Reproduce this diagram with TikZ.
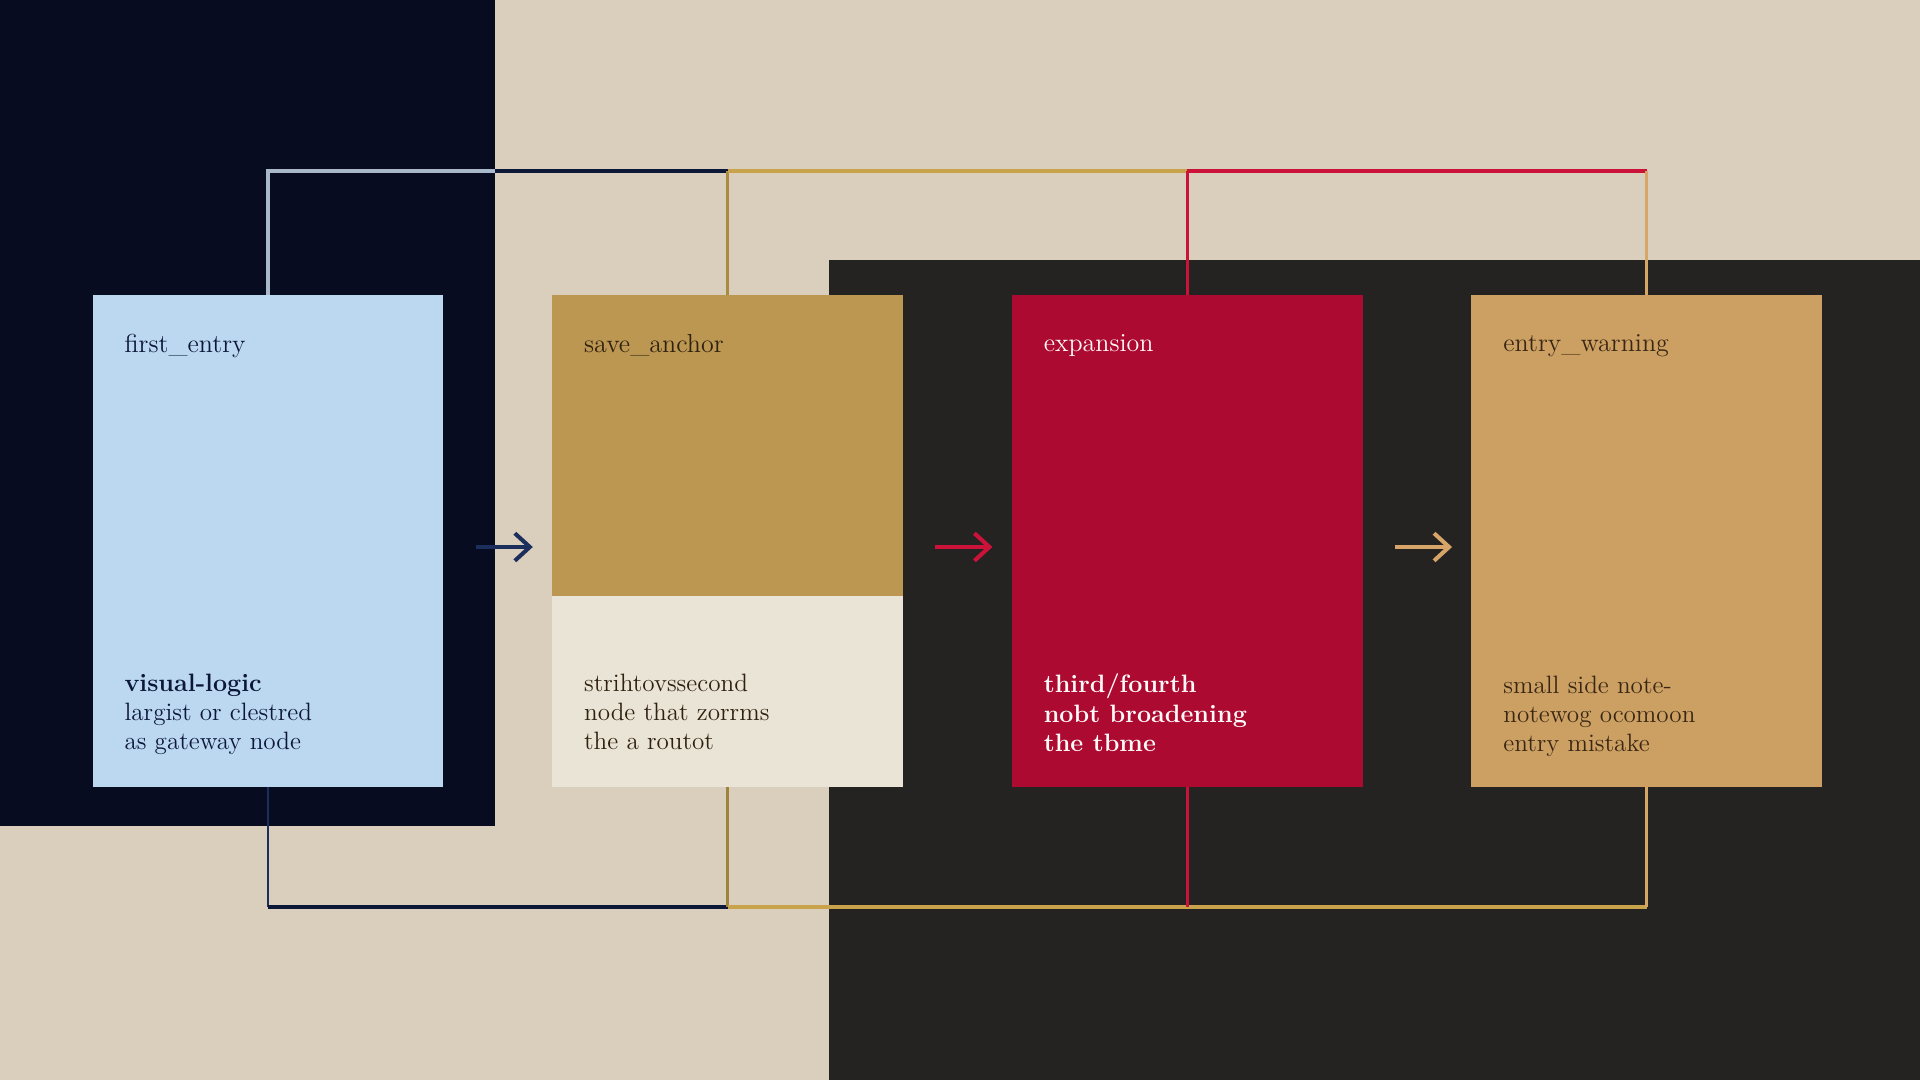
\documentclass[tikz,border=0pt]{standalone}
\usepackage{xcolor}
\usepackage{tikz}
\usetikzlibrary{arrows.meta,positioning,calc}

\definecolor{paper}{HTML}{D9CFBC}
\definecolor{nightpanel}{HTML}{070C20}
\definecolor{coalpanel}{HTML}{242322}
\definecolor{skyfill}{HTML}{BCD8F1}
\definecolor{goldfill}{HTML}{BB9752}
\definecolor{creamfill}{HTML}{E9E4D5}
\definecolor{crimsonfill}{HTML}{AD0A31}
\definecolor{tanfill}{HTML}{CCA063}
\definecolor{mistline}{HTML}{A9B8CB}
\definecolor{navyline}{HTML}{0D1838}
\definecolor{goldline}{HTML}{C9A24C}
\definecolor{redline}{HTML}{CB1238}
\definecolor{tanline}{HTML}{D6A567}
\definecolor{navyarrow}{HTML}{1B2E5C}

\begin{document}
\begin{tikzpicture}[x=0.02cm,y=-0.02cm,>={Straight Barb[length=3mm,width=5.5mm]},
  stage/.style={inner sep=0pt,minimum width=7.02cm,minimum height=9.84cm},
  wire/.style={line width=2.2pt},
  thinwire/.style={line width=1.7pt},
  flow/.style={->,line width=2.3pt,shorten <=0.64cm,shorten >=0.38cm},
  headtext/.style={anchor=west,inner sep=0pt,font=\fontsize{14.8}{17}\selectfont},
  bodytext/.style={anchor=north west,inner sep=0pt,align=left,font=\fontsize{14.3}{16.6}\selectfont}]
  \useasboundingbox (0,0) rectangle (1920,1080);
  \fill[paper] (0,0) rectangle (1920,1080);
  \fill[nightpanel] (0,0) rectangle (495,826);
  \fill[coalpanel] (829,260) rectangle (1920,1080);

  % the four stages
  \node[stage,fill=skyfill] (first) at (268,541) {};
  \node[stage,fill=creamfill,right=2.16cm of first] (anchor) {};
  \node[stage,fill=crimsonfill,right=2.16cm of anchor] (expand) {};
  \node[stage,fill=tanfill,right=2.16cm of expand] (warn) {};
  \fill[goldfill] (anchor.north west) rectangle ($(anchor.east)+(0,55)$);

  \coordinate (railtop) at (0,171);
  \coordinate (railbot) at (0,907);
  \coordinate (paneledge) at (495,0);

  % upper rail
  \draw[wire,mistline] (first.north) -- (first.north |- railtop) -- (paneledge |- railtop);
  \draw[wire,navyline] (paneledge |- railtop) -- (anchor.north |- railtop);
  \draw[thinwire,goldline!85!black] (anchor.north |- railtop) -- (anchor.north);
  \draw[wire,goldline] (anchor.north |- railtop) -- (expand.north |- railtop);
  \draw[wire,redline] (expand.north |- railtop) -- (warn.north |- railtop);
  \draw[thinwire,redline] (expand.north |- railtop) -- (expand.north);
  \draw[thinwire,tanline] (warn.north |- railtop) -- (warn.north);

  % lower rail
  \draw[thinwire,navyarrow] (first.south) -- (first.south |- railbot);
  \draw[wire,navyline] (first.south |- railbot) -- (anchor.south |- railbot);
  \draw[thinwire,goldline!80!black] (anchor.south) -- (anchor.south |- railbot);
  \draw[wire,goldline] (anchor.south |- railbot) -- (warn.south |- railbot);
  \draw[thinwire,tanline] (warn.south) -- (warn.south |- railbot);
  \draw[thinwire,redline] (expand.south) -- (expand.south |- railbot);

  % flow arrows
  \draw[flow,navyarrow] ([yshift=-0.12cm]first.east) -- ([yshift=-0.12cm]anchor.west);
  \draw[flow,redline] ([yshift=-0.12cm]anchor.east) -- ([yshift=-0.12cm]expand.west);
  \draw[flow,tanline] ([yshift=-0.12cm]expand.east) -- ([yshift=-0.12cm]warn.west);

  % labels
  \node[headtext,text=navyline] (firsthead) at ([shift={(32,51)}]first.north west) {first\_entry};
  \node[headtext,text=black!75!brown] (anchorhead) at ([shift={(32,51)}]anchor.north west) {save\_anchor};
  \node[headtext,text=white!92!pink] (expandhead) at ([shift={(32,51)}]expand.north west) {expansion};
  \node[headtext,text=black!70!brown] (warnhead) at ([shift={(32,51)}]warn.north west) {entry\_warning};

  \node[bodytext,text=navyline] (firstbody) at ([shift={(32,379)}]first.north west)
    {\textbf{visual-logic}\\largist or clestred\\as gateway node};
  \node[bodytext,text=black!75!brown] (anchorbody) at ([shift={(32,379)}]anchor.north west)
    {strihtovssecond\\node that zorrms\\the a routot};
  \node[bodytext,text=white!92!pink] (expandbody) at ([shift={(32,379)}]expand.north west)
    {\textbf{third/fourth}\\\textbf{nobt broadening}\\\textbf{the tbme}};
  \node[bodytext,text=black!70!brown] (warnbody) at ([shift={(32,381)}]warn.north west)
    {small side note-\\notewog ocomoon\\entry mistake};
\end{tikzpicture}
\end{document}
